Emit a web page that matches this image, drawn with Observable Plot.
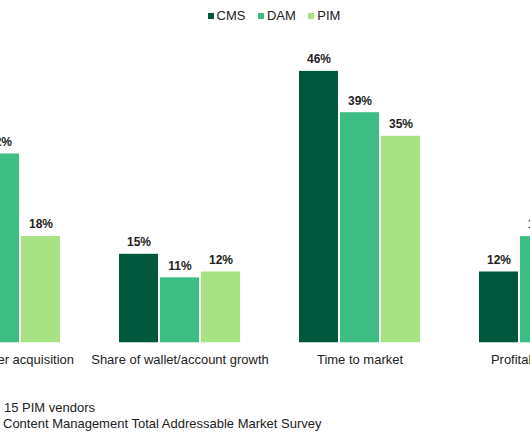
<!DOCTYPE html>
<html>
<head>
<meta charset="utf-8">
<script src="https://cdn.jsdelivr.net/npm/d3@7"></script>
<script src="https://cdn.jsdelivr.net/npm/@observablehq/plot@0.6"></script>
<style>
  html, body { margin: 0; padding: 0; background: #fff; }
  body { width: 530px; height: 442px; overflow: hidden; position: relative; font-family: Arial, "Liberation Sans", sans-serif; color: #222; }
  #legend { position: absolute; top: 8px; left: 207.5px; display: flex; align-items: center; font-size: 13px; white-space: nowrap; line-height: 16px; }
  #legend .item { display: flex; align-items: center; margin-right: 12.5px; }
  #legend .sw { width: 6px; height: 6px; margin-right: 3px; }
  #chart { position: absolute; top: 30px; left: -90.95px; width: 721.2px; }
  #chart svg { max-width: none !important; }
  .cap { position: absolute; left: 4px; font-size: 13px; white-space: nowrap; color: #222; line-height: 15px; }
</style>
</head>
<body>
<div id="legend"></div>
<div id="chart"></div>
<div class="cap" style="top:400px">15 PIM vendors</div>
<div class="cap" style="top:416px;left:3px">Content Management Total Addressable Market Survey</div>
<script>
const categories = ["New customer acquisition", "Share of wallet/account growth", "Time to market", "Profitability gains"];
const seriesNames = ["CMS", "DAM", "PIM"];
const cmsValues = [28, 15, 46, 12];
const damValues = [32, 11, 39, 18];
const pimValues = [18, 12, 35, 20];
const colors = ["#02583c", "#3dbc84", "#a7e285"];

const valuesBySeries = [cmsValues, damValues, pimValues];
const data = [];
categories.forEach((c, i) => {
  seriesNames.forEach((s, j) => {
    data.push({category: c, series: s, value: valuesBySeries[j][i]});
  });
});

// legend
const legend = document.getElementById("legend");
seriesNames.forEach((s, j) => {
  const it = document.createElement("div");
  it.className = "item";
  const sw = document.createElement("span");
  sw.className = "sw";
  sw.style.background = colors[j];
  const t = document.createElement("span");
  t.textContent = s;
  it.appendChild(sw);
  it.appendChild(t);
  legend.appendChild(it);
});

const chart = Plot.plot({
  width: 721.2,
  height: 360,
  marginLeft: 0,
  marginRight: 0,
  marginTop: 17.3,
  marginBottom: 47.7,
  style: {fontFamily: "Arial, 'Liberation Sans', sans-serif", fontSize: "13px", color: "#222", background: "transparent", maxWidth: "none"},
  fx: {domain: categories, paddingInner: 0.329, paddingOuter: 0.1645, label: null, axis: "bottom", tickSize: 0, tickPadding: 12},
  x: {domain: seriesNames, paddingInner: 0.06, paddingOuter: 0, axis: null},
  y: {domain: [0, 50], axis: null},
  color: {domain: seriesNames, range: colors},
  marks: [
    Plot.barY(data, {fx: "category", x: "series", y: "value", fill: "series"}),
    Plot.text(data, {fx: "category", x: "series", y: "value", text: d => d.value + "%", dy: -12, fontWeight: "bold", fontSize: 12, fill: "#222"})
  ]
});
chart.style.maxWidth = "none";
document.getElementById("chart").appendChild(chart);
</script>
</body>
</html>
